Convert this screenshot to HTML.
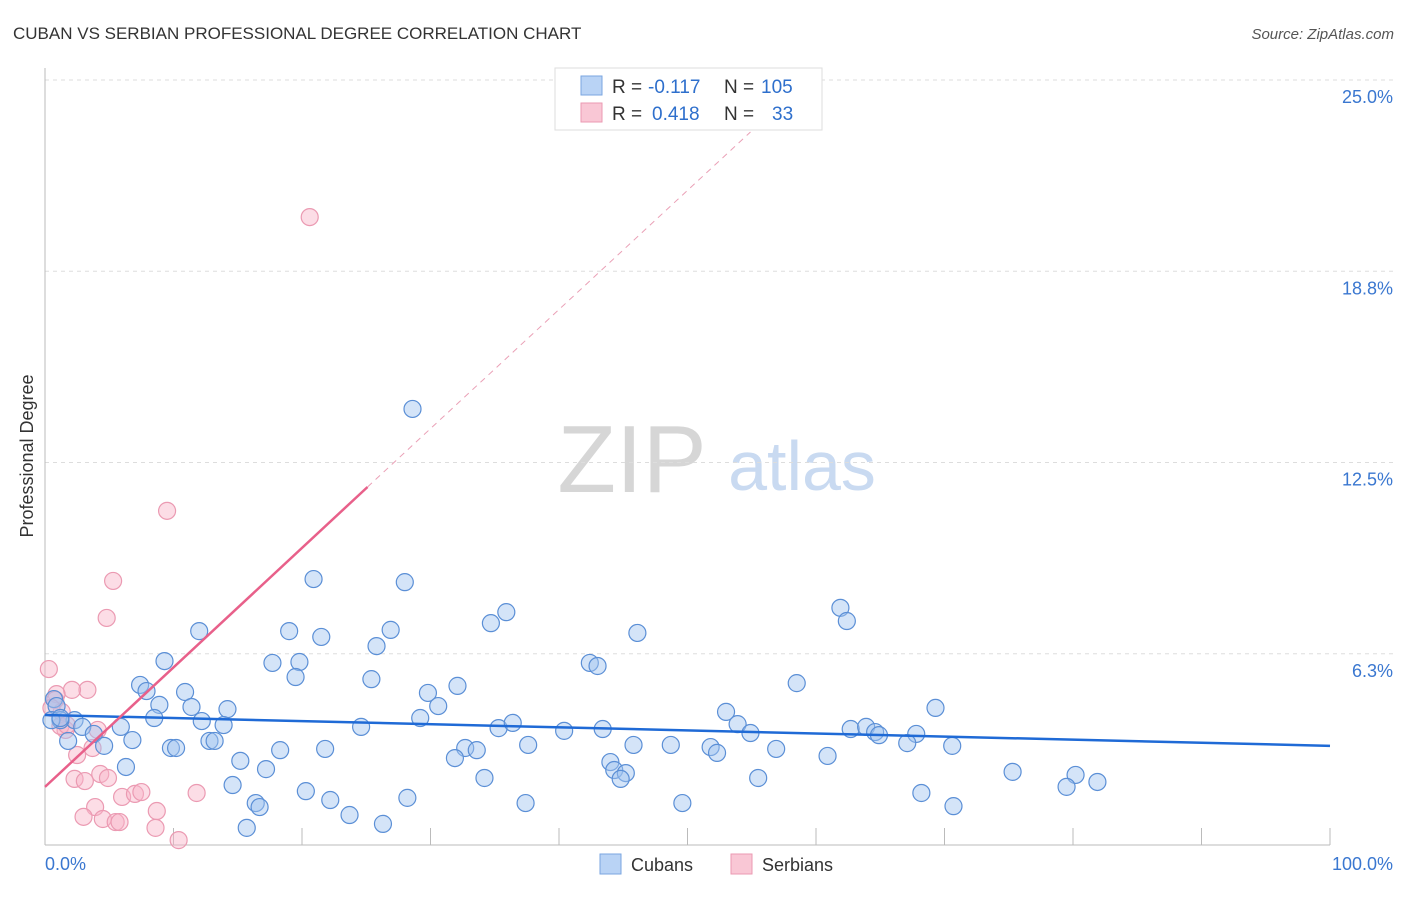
<!DOCTYPE html>
<html><head><meta charset="utf-8"><style>
body{margin:0;background:#fff;font-family:"Liberation Sans",sans-serif;}
svg text{font-family:"Liberation Sans",sans-serif;}
</style></head><body>
<svg id="chart" width="1406" height="892" viewBox="0 0 1406 892" xmlns="http://www.w3.org/2000/svg">
<text x="13" y="39" font-size="17" fill="#333">CUBAN VS SERBIAN PROFESSIONAL DEGREE CORRELATION CHART</text>
<text x="1394" y="39" font-size="15" fill="#555" text-anchor="end" font-style="italic">Source: ZipAtlas.com</text>
<g>
<text x="632" y="492" font-size="96" fill="#d6d6d6" text-anchor="middle" font-family="Liberation Serif, serif">ZIP</text>
<text x="802" y="490" font-size="70" fill="#c9daf1" text-anchor="middle">atlas</text>
</g>
<g id="grid"></g>
<g id="axes"></g>
<g id="marks"></g>
<text transform="translate(33,456) rotate(-90)" font-size="18" fill="#333" text-anchor="middle">Professional Degree</text>
<g>
<rect x="555" y="68" width="267" height="62" fill="#fff" stroke="#ddd"/>
<rect x="581" y="76" width="21" height="19" fill="#b9d3f5" stroke="#7aa6e0"/>
<rect x="581" y="103" width="21" height="19" fill="#f9c7d5" stroke="#eb9ab2"/>
<text x="612" y="93" font-size="19" fill="#333">R =</text>
<text x="648" y="93" font-size="19" fill="#2e6fcc">-0.117</text>
<text x="724" y="93" font-size="19" fill="#333">N =</text>
<text x="761" y="93" font-size="19" fill="#2e6fcc">105</text>
<text x="612" y="120" font-size="19" fill="#333">R =</text>
<text x="652" y="120" font-size="19" fill="#2e6fcc">0.418</text>
<text x="724" y="120" font-size="19" fill="#333">N =</text>
<text x="772" y="120" font-size="19" fill="#2e6fcc">33</text>
</g>
<g>
<rect x="600" y="854" width="21" height="20" fill="#b9d3f5" stroke="#7aa6e0"/>
<text x="631" y="871" font-size="18" fill="#333">Cubans</text>
<rect x="731" y="854" width="21" height="20" fill="#f9c7d5" stroke="#eb9ab2"/>
<text x="762" y="871" font-size="18" fill="#333">Serbians</text>
</g>
</svg>
<script>
const yTicks=[6.25,12.5,18.75,25];
const yTickLabels=["6.3%","12.5%","18.8%","25.0%"];
const xTickLabels=["0.0%","100.0%"];
const cubanX=[28.6,20.9,28.0,35.9,34.7,61.9,62.4,46.1,19.0,12.0,21.5,26.9,25.8,9.3,17.7,19.8,42.4,43.0,19.5,25.4,32.1,58.5,7.4,7.9,10.9,29.8,8.9,11.4,14.2,30.6,0.7,0.9,69.3,29.2,53.0,8.5,12.2,24.6,35.3,36.4,40.4,43.4,53.9,54.9,13.9,62.7,63.9,64.6,64.9,67.8,2.3,2.9,1.2,0.5,1.8,3.8,4.6,5.9,6.8,9.8,10.2,12.8,13.2,37.6,32.7,33.6,45.8,48.7,51.8,52.3,56.9,67.1,70.6,18.3,21.8,31.9,60.9,15.2,6.3,17.2,44.0,44.3,45.2,44.8,55.5,75.3,80.2,79.5,81.9,34.2,14.6,20.3,68.2,16.4,16.7,28.2,22.2,37.4,49.6,70.7,23.7,26.3,15.7,1.2];
const cubanY=[14.25,8.69,8.59,7.61,7.25,7.75,7.32,6.93,6.99,6.99,6.80,7.03,6.50,6.01,5.95,5.98,5.95,5.85,5.49,5.42,5.20,5.29,5.23,5.03,5.00,4.97,4.58,4.51,4.44,4.54,4.77,4.54,4.48,4.15,4.35,4.15,4.05,3.86,3.82,3.99,3.73,3.79,3.95,3.66,3.92,3.79,3.86,3.69,3.59,3.63,4.08,3.86,4.08,4.08,3.40,3.63,3.24,3.86,3.43,3.17,3.17,3.40,3.40,3.27,3.17,3.10,3.27,3.27,3.20,3.01,3.14,3.33,3.24,3.10,3.14,2.84,2.91,2.75,2.55,2.48,2.71,2.45,2.35,2.16,2.19,2.39,2.29,1.90,2.06,2.19,1.96,1.76,1.70,1.37,1.24,1.54,1.47,1.37,1.37,1.27,0.98,0.69,0.56,4.15];
const serbX=[20.6,9.5,5.3,4.8,0.3,3.3,2.1,0.9,0.8,1.3,1.6,4.1,3.7,2.5,2.3,3.1,4.3,4.9,6.0,7.0,7.5,11.8,3.9,3.0,4.5,5.5,5.8,8.7,8.6,10.4,0.5,1.2,1.7];
const serbY=[20.52,10.92,8.63,7.42,5.75,5.07,5.07,4.93,4.74,4.35,3.76,3.76,3.17,2.94,2.16,2.09,2.32,2.19,1.57,1.67,1.73,1.70,1.24,0.92,0.85,0.75,0.75,1.11,0.56,0.16,4.48,3.89,3.92];
const cubanTrend=[[0,4.25],[100,3.24]];
const serbTrendSolid=[[0,1.9],[25.1,11.7]];
const serbTrendDash=[[25.1,11.7],[54.9,23.3]];

const NS="http://www.w3.org/2000/svg";
const X0=45,X1=1330,Y0=845,YTOP=80;
const sx=v=>X0+(X1-X0)*v/100;
const sy=v=>Y0-(Y0-YTOP)*v/25;
function mk(tag,attrs,parent){const e=document.createElementNS(NS,tag);for(const k in attrs)e.setAttribute(k,attrs[k]);parent.appendChild(e);return e;}
const grid=document.getElementById('grid'),axes=document.getElementById('axes'),marks=document.getElementById('marks');
yTicks.forEach((t,i)=>{
 const l=mk('line',{x1:X0,x2:1394,y1:sy(t),y2:sy(t),stroke:'#ddd','stroke-dasharray':'4,4'},grid);
 
 
 const tx=mk('text',{x:1393,y:sy(t)+23,'font-size':18,fill:'#3a77d0','text-anchor':'end'},axes);
 tx.textContent=yTickLabels[i];
 
 
});
const ax=mk('line',{x1:X0,x2:X0,y1:68,y2:Y0,stroke:'#bbb'},axes);


const bx=mk('line',{x1:X0,x2:X1,y1:Y0,y2:Y0,stroke:'#bbb'},axes);


for(let i=1;i<=10;i++){
 const t=mk('line',{x1:sx(i*10),x2:sx(i*10),y1:Y0-17,y2:Y0,stroke:'#bbb'},axes);
 
 
}
[[0,'start',X0],[100,'end',1393]].forEach((d,i)=>{
 const tx=mk('text',{x:d[2],y:870,'font-size':18,fill:'#3a77d0','text-anchor':d[1]},axes);
 tx.textContent=xTickLabels[i];
 
 
});
serbX.forEach((v,i)=>{
 const c=mk('circle',{cx:sx(v),cy:sy(serbY[i]),r:8.5,fill:'rgba(248,180,200,0.45)',stroke:'#eb9ab2','stroke-width':1.2},marks);
 
 
});
cubanX.forEach((v,i)=>{
 const c=mk('circle',{cx:sx(v),cy:sy(cubanY[i]),r:8.5,fill:'rgba(160,195,240,0.45)',stroke:'#5b8fd6','stroke-width':1.2},marks);
 
 
});
const l1=mk('line',{x1:sx(cubanTrend[0][0]),y1:sy(cubanTrend[0][1]),x2:sx(cubanTrend[1][0]),y2:sy(cubanTrend[1][1]),stroke:'#1f6ad6','stroke-width':2.5},marks);


const l2=mk('line',{x1:sx(serbTrendSolid[0][0]),y1:sy(serbTrendSolid[0][1]),x2:sx(serbTrendSolid[1][0]),y2:sy(serbTrendSolid[1][1]),stroke:'#e8608a','stroke-width':2.5},marks);


const l3=mk('line',{x1:sx(serbTrendDash[0][0]),y1:sy(serbTrendDash[0][1]),x2:sx(serbTrendDash[1][0]),y2:sy(serbTrendDash[1][1]),stroke:'#eaa0b6','stroke-width':1,'stroke-dasharray':'6,5'},marks);


</script>
</body></html>
